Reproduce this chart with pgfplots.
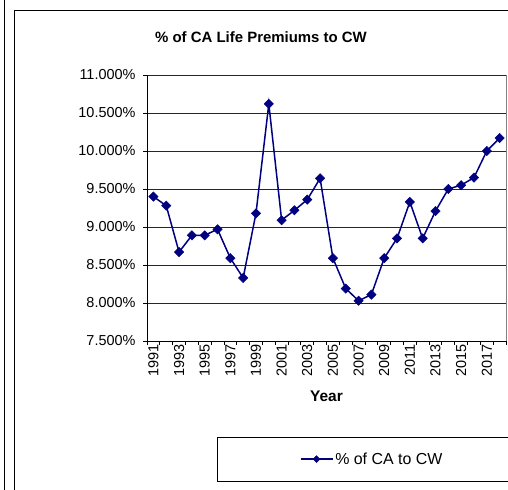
\documentclass[border=0pt]{standalone}
\usepackage{pgfplots}
\pgfplotsset{compat=1.18}
\usepackage{fontspec}
\setmainfont{Liberation Sans}
\definecolor{navy}{RGB}{0,0,128}
\begin{document}
\begin{tikzpicture}[x=1bp,y=1bp]
\useasboundingbox (0,0) rectangle (508,490);
\draw[black, line width=0.8bp] (4,-5) -- (4,495);
\draw[black, line width=0.8bp] (14,-5) -- (14,480) -- (515,480);
\draw[black, line width=0.8bp] (217,53) rectangle (515,9);
\node[font=\fontsize{15}{17}\selectfont\bfseries] at (261,453) {\% of CA Life Premiums to CW};
\begin{axis}[
 at={(147bp,149bp)}, anchor=south west,
 width=359bp, height=266bp, scale only axis,
 xmin=1990.5, xmax=2018.5, ymin=7.5, ymax=11,
 axis x line*=bottom, axis y line*=left,
 axis line style={black, line width=0.8bp, -},
 xtick={1990.5,1991.5,...,2018.5},
 xticklabels={},
 extra x ticks={1991,1993,...,2017},
 extra x tick labels={1991,1993,1995,1997,1999,2001,2003,2005,2007,2009,2011,2013,2015,2017},
 extra x tick style={major tick length=0pt, grid=none},
 xticklabel style={rotate=90, anchor=east, font=\fontsize{14.5}{16}\selectfont},
 ytick={7.5,8,8.5,9,9.5,10,10.5,11},
 yticklabels={7.500\%,8.000\%,8.500\%,9.000\%,9.500\%,10.000\%,10.500\%,11.000\%},
 yticklabel style={font=\fontsize{14.5}{16}\selectfont, xshift=-4bp},
 tick align=outside, major tick length=4bp,
 tick style={black, line width=0.8bp},
 ymajorgrids, grid style={black!85, line width=0.8bp},
 xlabel={Year},
 xlabel style={font=\fontsize{15.5}{17}\selectfont\bfseries, at={(axis description cs:0.5,-0.209)}, anchor=center},
 clip=false,
 legend style={at={(axis description cs:0.627,-0.444)}, anchor=center, draw=none, fill=none, font=\fontsize{16}{18}\selectfont},
 legend image code/.code={\draw[mark repeat=2,mark phase=2,#1,mark size=2.4bp] plot coordinates {(0bp,0bp) (16bp,0bp) (32bp,0bp)};},
]
\draw[black!50, line width=0.8bp] (rel axis cs:1,0) -- (rel axis cs:1,1);
\addplot[navy, line width=1.5bp, mark=square*, mark size=3.3bp, mark options={rotate=45, fill=navy, draw=navy, line width=0.5bp}] coordinates {
(1991,9.40) (1992,9.28) (1993,8.67) (1994,8.89) (1995,8.89) (1996,8.97) (1997,8.59) (1998,8.33) (1999,9.18) (2000,10.62)
(2001,9.09) (2002,9.22) (2003,9.36) (2004,9.64) (2005,8.59) (2006,8.19) (2007,8.03) (2008,8.11) (2009,8.59) (2010,8.85)
(2011,9.33) (2012,8.85) (2013,9.21) (2014,9.50) (2015,9.55) (2016,9.65) (2017,10.00) (2018,10.17)
};
\addlegendentry{\% of CA to CW}
\end{axis}
\end{tikzpicture}
\end{document}
